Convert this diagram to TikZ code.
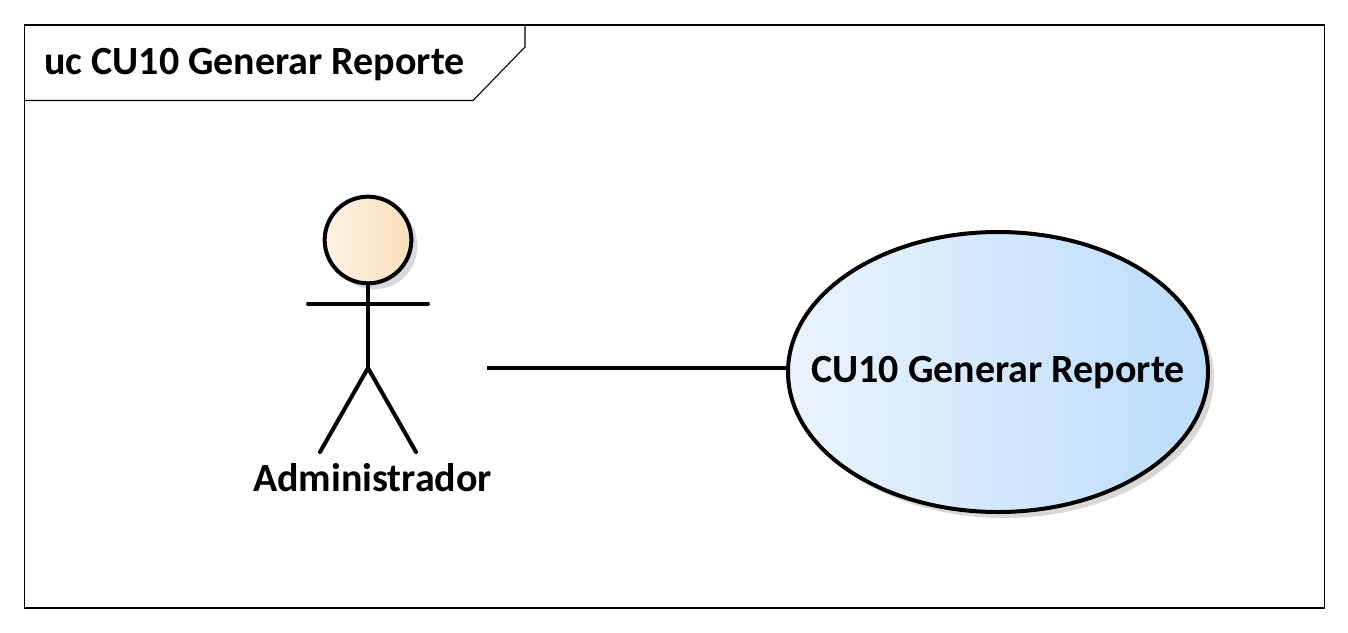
\documentclass[tikz,border=0pt]{standalone}
\usepackage{fontspec}
\setmainfont{Carlito}
\usetikzlibrary{shapes.geometric,shadows}

\definecolor{headleft}{HTML}{FDF3E4}
\definecolor{headright}{HTML}{F9DFB9}
\definecolor{caseleft}{HTML}{EBF4FD}
\definecolor{caseright}{HTML}{BBDCFB}
\definecolor{shadowgray}{HTML}{D8D8D8}

\tikzset{
  umlshadow/.style={drop shadow={shadow xshift=4.5pt, shadow yshift=-4.5pt, fill=shadowgray, opacity=1}},
  actorline/.style={line width=3pt, line cap=round, black},
  framelabel/.style={font=\fontsize{30}{34}\selectfont\bfseries, anchor=west, inner sep=0pt},
  caselabel/.style={font=\fontsize{30}{34}\selectfont\bfseries, align=center, inner sep=0pt},
}

\begin{document}
\begin{tikzpicture}[x=0.75pt, y=-0.75pt]

% margins
\useasboundingbox (0,0) rectangle (1348,632);

%========================
% frame
%========================
\draw[line width=0.8pt] (24.5,25) rectangle (1324.5,608);
\draw[line width=0.8pt] (24.5,100.5) -- (473,100.5) -- (525,47) -- (525,25);
\node[framelabel] (frametitle) at (44,65) {uc CU10 Generar Reporte};

%========================
% actor
%========================
\coordinate (armL) at (308,303.5);
\coordinate (armR) at (428,303.5);
\coordinate (hip) at (368,368);
\coordinate (footL) at (320,452);
\coordinate (footR) at (416,452);
\coordinate (assocstart) at (487,368);

\node[circle, minimum size=65pt, inner sep=0pt, line width=3pt, draw=black,
      left color=headleft, right color=headright, umlshadow] (head) at (368,240) {};
\draw[actorline] (head.south) -- (hip);
\draw[actorline] (armL) -- (armR);
\draw[actorline] (footL) -- (hip) -- (footR);
\node[caselabel] (actorname) at (372.5,478) {Administrador};

%========================
% use case
%========================
\node[ellipse, minimum width=315pt, minimum height=210pt, inner sep=0pt, line width=3pt, draw=black,
      left color=caseleft, right color=caseright, umlshadow] (usecase) at (998,372) {};
\node[caselabel] (casename) at (998,373) {CU10 Generar Reporte};

%========================
% association
%========================
\draw[line width=3pt] (assocstart) -- (usecase.west |- assocstart);

\end{tikzpicture}
\end{document}
